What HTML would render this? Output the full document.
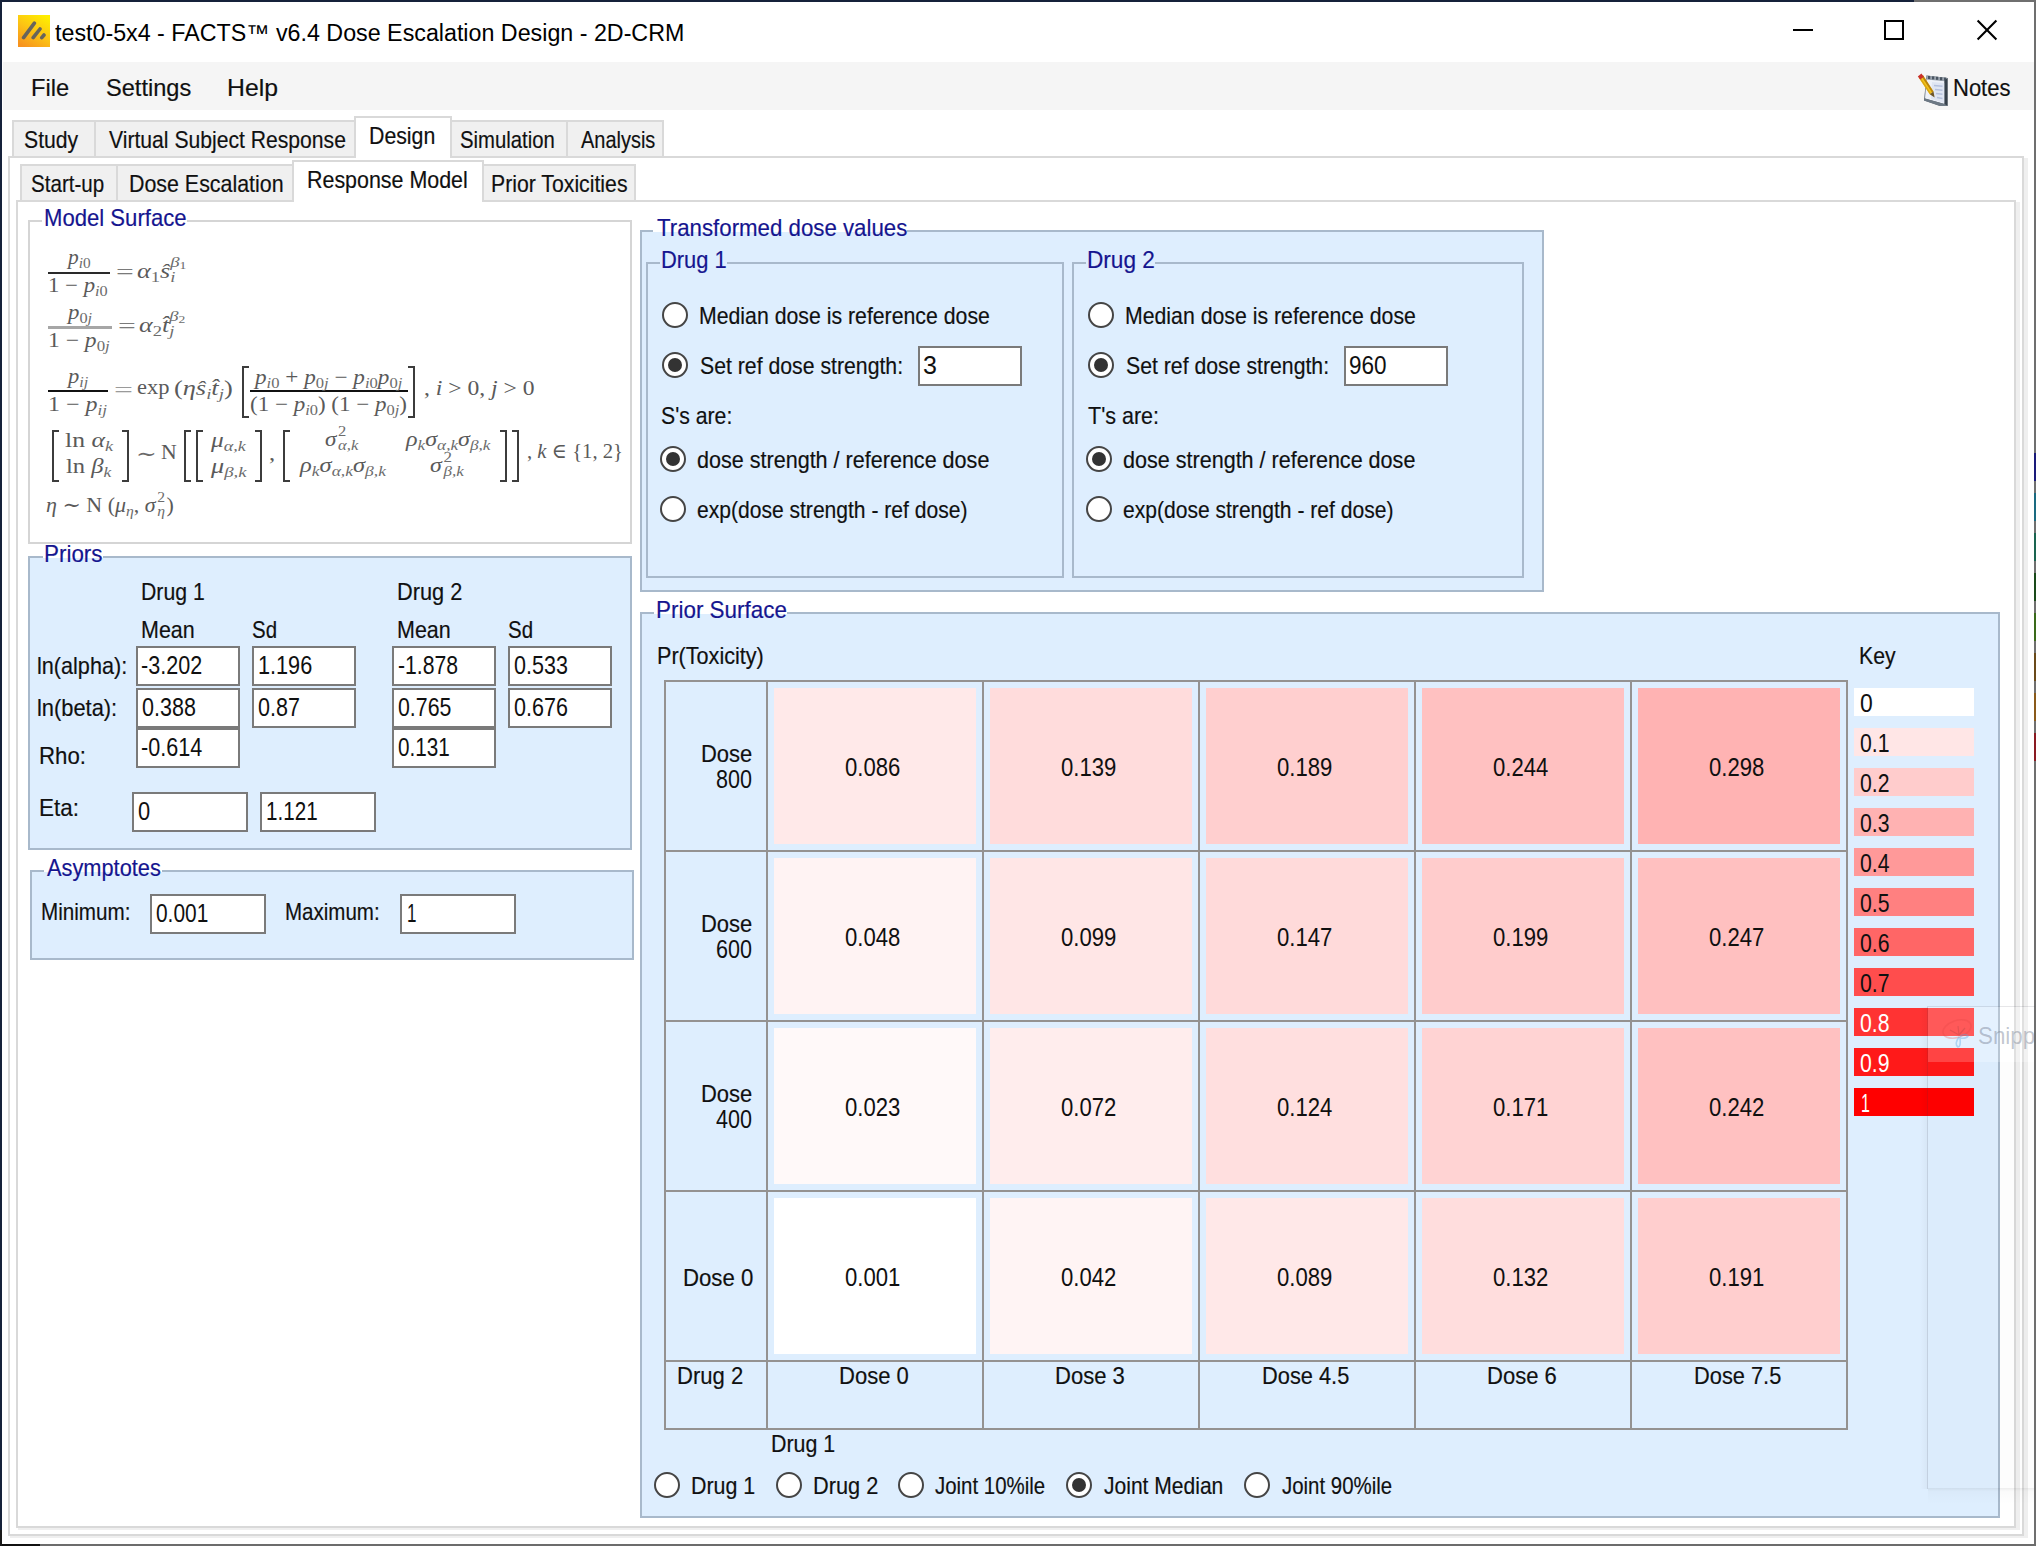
<!DOCTYPE html>
<html lang="en"><head><meta charset="utf-8"><title>test0-5x4 - FACTS v6.4 Dose Escalation Design - 2D-CRM</title>
<style>
html,body{margin:0;padding:0}
body{width:2036px;height:1546px;position:relative;overflow:hidden;background:#fff;font-family:'Liberation Sans', Arial, sans-serif;color:#101010}
body>div,body>svg,body>span{position:absolute;box-sizing:content-box}
.t{white-space:pre;font-size:24px;line-height:24px;transform-origin:0 0;display:block;-webkit-text-stroke:0.18px currentColor}

.sb{font-size:15px;position:relative;top:4px;color:#6c6c6c}
.sp{font-size:15px;position:relative;top:-9px}
.k{display:inline-block;position:relative;height:0;vertical-align:baseline}
.k>span{position:absolute;left:0;font-size:15px;line-height:15px;color:#6c6c6c}
.k>.u{bottom:7px}
.k>.d{top:-8px}
.f i{font-style:italic}
i{font-style:italic}

.f{position:absolute;white-space:pre;font-family:'Liberation Serif', 'DejaVu Serif', serif;color:#4b4b4b;line-height:1}
.f i{font-style:italic}
</style></head>
<body>
<div style="left:0px;top:0px;width:2036px;height:2px;background:#15213a;"></div>
<div style="left:1914px;top:0px;width:122px;height:2px;background:#6f6f6f;"></div>
<div style="left:0px;top:0px;width:2px;height:1546px;background:#15213a;"></div>
<div style="left:2034px;top:0px;width:2px;height:1546px;background:#6f6f6f;"></div>
<div style="left:0px;top:1544px;width:2036px;height:2px;background:#6c6c6c;"></div>
<div style="left:0px;top:1544px;width:40px;height:2px;background:#111111;"></div>
<div style="left:0px;top:1530px;width:2px;height:16px;background:#1a1a1a;"></div>
<div style="left:2034px;top:453px;width:2px;height:28px;background:#1a1a7a;"></div>
<div style="left:2034px;top:493px;width:2px;height:28px;background:#1a6a80;"></div>
<div style="left:2034px;top:533px;width:2px;height:28px;background:#1a6450;"></div>
<div style="left:2034px;top:573px;width:2px;height:28px;background:#1a4a1a;"></div>
<div style="left:2034px;top:613px;width:2px;height:28px;background:#3a6a1a;"></div>
<div style="left:2034px;top:653px;width:2px;height:28px;background:#6a4a1a;"></div>
<div style="left:2034px;top:693px;width:2px;height:28px;background:#8a5a1a;"></div>
<div style="left:2034px;top:733px;width:2px;height:28px;background:#8a1a22;"></div>
<div style="left:3px;top:62px;width:2031px;height:48px;background:#f5f5f5;"></div>
<svg style="left:18px;top:15px" width="32" height="32" viewBox="0 0 32 32">
<defs><linearGradient id="ig" x1="0.8" y1="0" x2="0.2" y2="1"><stop offset="0" stop-color="#ffee00"/><stop offset="0.5" stop-color="#fcc414"/><stop offset="1" stop-color="#f7931e"/></linearGradient></defs>
<rect width="32" height="32" fill="url(#ig)"/>
<g stroke="#606060" stroke-width="3.6" stroke-linecap="round" opacity="0.95">
<line x1="5.6" y1="22.6" x2="16.4" y2="8.2"/><line x1="15.2" y1="22.6" x2="22" y2="14"/><line x1="23.8" y1="22.6" x2="26" y2="20"/></g></svg>
<div style="left:1793px;top:29px;width:20px;height:2px;background:#000;"></div>
<div style="left:1884px;top:20px;width:16px;height:16px;border:2px solid #000;background:transparent;"></div>
<svg style="left:1975px;top:18px" width="24" height="24" viewBox="0 0 24 24"><path d="M2.6 2.6 L21.4 21.4 M21.4 2.6 L2.6 21.4" stroke="#000" stroke-width="2.1" fill="none"/></svg>
<svg style="left:1917px;top:73px" width="34" height="34" viewBox="0 0 34 34">
<path d="M9.5 2.5 L30.5 5 L30.5 33 L23 33 L7 27.5 Z" fill="#59636f"/>
<path d="M9.5 6 L27.5 7.5 L27.5 31 L8 25.5 Z" fill="#eef1f8"/>
<path d="M15 9 L27.5 10 L27.5 30 L14 26 Z" fill="#dfe5f2"/>
<path d="M9.5 2.5 L30.5 5 L30.5 8.5 L9.5 6.5 Z" fill="#9aa3ae"/>
<g fill="#4a5561"><rect x="11" y="3" width="2.2" height="3"/><rect x="15" y="3.4" width="2.2" height="3"/><rect x="19" y="3.8" width="2.2" height="3"/><rect x="23" y="4.2" width="2.2" height="3"/><rect x="27" y="4.6" width="2.2" height="3"/></g>
<path d="M27.5 7.5 L30.5 5 L30.5 33 L27.5 31Z" fill="#36414b"/>
<path d="M8 25.5 L27.5 31 L30.5 33 L23 33 L7 27.5Z" fill="#6c7884"/>
<g stroke="#b4c0dc" stroke-width="1.5"><line x1="17" y1="12.5" x2="25.5" y2="13.3"/><line x1="18" y1="16.5" x2="25.5" y2="17.3"/><line x1="19" y1="20.5" x2="25.5" y2="21.3"/><line x1="20" y1="24.5" x2="25.5" y2="25.5"/></g>
<path d="M2.2 5.2 L6 2.2 L16.5 18.5 L12.8 21.3 Z" fill="#f4c61c"/>
<path d="M4.6 3.4 L6 2.2 L16.5 18.5 L15 19.6 Z" fill="#b9820f"/>
<path d="M2.2 5.2 L3.4 4.3 L14 20.4 L12.8 21.3 Z" fill="#d9a514"/>
<path d="M0.8 3.4 L4.4 0.6 L6.8 3.8 L3.2 6.6 Z" fill="#c9302a"/>
<path d="M12.8 21.3 L16.5 18.5 L17.6 24.6 Z" fill="#6e5628"/>
</svg>
<div style="left:8px;top:156px;width:2012px;height:1376px;border:2px solid #d9d9d9;background:#fff;"></div>
<div style="left:2024px;top:158px;width:4px;height:1380px;background:#efefef;"></div>
<div style="left:10px;top:1536px;width:2018px;height:2px;background:#efefef;"></div>
<div style="left:12px;top:120px;width:80px;height:34px;border:2px solid #d9d9d9;background:#f0f0f0;"></div>
<div style="left:94px;top:120px;width:258px;height:34px;border:2px solid #d9d9d9;background:#f0f0f0;"></div>
<div style="left:450px;top:120px;width:114px;height:34px;border:2px solid #d9d9d9;background:#f0f0f0;"></div>
<div style="left:566px;top:120px;width:94px;height:34px;border:2px solid #d9d9d9;background:#f0f0f0;"></div>
<div style="left:354px;top:116px;width:94px;height:38px;border:2px solid #d9d9d9;background:#ffffff;border-bottom:none;height:40px;"></div>
<div style="left:16px;top:200px;width:1996px;height:1324px;border:2px solid #d9d9d9;background:#fff;"></div>
<div style="left:2016px;top:202px;width:4px;height:1328px;background:#efefef;"></div>
<div style="left:18px;top:1528px;width:2002px;height:2px;background:#efefef;"></div>
<div style="left:20px;top:164px;width:94px;height:34px;border:2px solid #d9d9d9;background:#f0f0f0;"></div>
<div style="left:116px;top:164px;width:174px;height:34px;border:2px solid #d9d9d9;background:#f0f0f0;"></div>
<div style="left:482px;top:164px;width:150px;height:34px;border:2px solid #d9d9d9;background:#f0f0f0;"></div>
<div style="left:292px;top:160px;width:188px;height:38px;border:2px solid #d9d9d9;background:#ffffff;border-bottom:none;height:40px;"></div>
<div style="left:28px;top:220px;width:600px;height:320px;border:2px solid #d5d5d5;background:#fff;"></div>
<div style="left:42.0px;top:220px;width:144.5px;height:2px;background:#fff;"></div>
<div style="left:28px;top:556px;width:600px;height:290px;border:2px solid #a8b9cb;background:#deeefe;"></div>
<div style="left:42.5px;top:556px;width:60.5px;height:2px;background:#fff;"></div>
<div style="left:30px;top:870px;width:600px;height:86px;border:2px solid #a8b9cb;background:#deeefe;"></div>
<div style="left:43.5px;top:870px;width:118.0px;height:2px;background:#fff;"></div>
<div style="left:640px;top:230px;width:900px;height:358px;border:2px solid #a8b9cb;background:#deeefe;"></div>
<div style="left:653.0px;top:230px;width:254.0px;height:2px;background:#fff;"></div>
<div style="left:646px;top:262px;width:414px;height:312px;border:2px solid #a8b9cb;background:#deeefe;"></div>
<div style="left:659.5px;top:262px;width:67.5px;height:2px;background:#deeefe;"></div>
<div style="left:1072px;top:262px;width:448px;height:312px;border:2px solid #a8b9cb;background:#deeefe;"></div>
<div style="left:1085.5px;top:262px;width:69.5px;height:2px;background:#deeefe;"></div>
<div style="left:640px;top:612px;width:1356px;height:902px;border:2px solid #a8b9cb;background:#deeefe;"></div>
<div style="left:654.0px;top:612px;width:132.5px;height:2px;background:#fff;"></div>
<div style="left:136px;top:646px;width:100px;height:36px;border:2px solid #7a7a7a;background:#fff;"></div>
<div style="left:252px;top:646px;width:100px;height:36px;border:2px solid #7a7a7a;background:#fff;"></div>
<div style="left:392px;top:646px;width:100px;height:36px;border:2px solid #7a7a7a;background:#fff;"></div>
<div style="left:508px;top:646px;width:100px;height:36px;border:2px solid #7a7a7a;background:#fff;"></div>
<div style="left:136px;top:688px;width:100px;height:36px;border:2px solid #7a7a7a;background:#fff;"></div>
<div style="left:252px;top:688px;width:100px;height:36px;border:2px solid #7a7a7a;background:#fff;"></div>
<div style="left:392px;top:688px;width:100px;height:36px;border:2px solid #7a7a7a;background:#fff;"></div>
<div style="left:508px;top:688px;width:100px;height:36px;border:2px solid #7a7a7a;background:#fff;"></div>
<div style="left:136px;top:728px;width:100px;height:36px;border:2px solid #7a7a7a;background:#fff;"></div>
<div style="left:392px;top:728px;width:100px;height:36px;border:2px solid #7a7a7a;background:#fff;"></div>
<div style="left:132px;top:792px;width:112px;height:36px;border:2px solid #7a7a7a;background:#fff;"></div>
<div style="left:260px;top:792px;width:112px;height:36px;border:2px solid #7a7a7a;background:#fff;"></div>
<div style="left:150px;top:894px;width:112px;height:36px;border:2px solid #7a7a7a;background:#fff;"></div>
<div style="left:400px;top:894px;width:112px;height:36px;border:2px solid #7a7a7a;background:#fff;"></div>
<div style="left:662px;top:302px;width:22px;height:22px;border:2px solid #454545;border-radius:50%;background:#fff"></div>
<div style="left:662px;top:352px;width:22px;height:22px;border:2px solid #454545;border-radius:50%;background:#fff"></div>
<div style="left:668px;top:358px;width:14px;height:14px;border-radius:50%;background:#333"></div>
<div style="left:918px;top:346px;width:100px;height:36px;border:2px solid #7a7a7a;background:#fff;"></div>
<div style="left:660px;top:446px;width:22px;height:22px;border:2px solid #454545;border-radius:50%;background:#fff"></div>
<div style="left:666px;top:452px;width:14px;height:14px;border-radius:50%;background:#333"></div>
<div style="left:660px;top:496px;width:22px;height:22px;border:2px solid #454545;border-radius:50%;background:#fff"></div>
<div style="left:1088px;top:302px;width:22px;height:22px;border:2px solid #454545;border-radius:50%;background:#fff"></div>
<div style="left:1088px;top:352px;width:22px;height:22px;border:2px solid #454545;border-radius:50%;background:#fff"></div>
<div style="left:1094px;top:358px;width:14px;height:14px;border-radius:50%;background:#333"></div>
<div style="left:1344px;top:346px;width:100px;height:36px;border:2px solid #7a7a7a;background:#fff;"></div>
<div style="left:1086px;top:446px;width:22px;height:22px;border:2px solid #454545;border-radius:50%;background:#fff"></div>
<div style="left:1092px;top:452px;width:14px;height:14px;border-radius:50%;background:#333"></div>
<div style="left:1086px;top:496px;width:22px;height:22px;border:2px solid #454545;border-radius:50%;background:#fff"></div>
<div style="left:664px;top:680px;width:2px;height:750px;background:#949291;"></div>
<div style="left:766px;top:680px;width:2px;height:750px;background:#949291;"></div>
<div style="left:982px;top:680px;width:2px;height:750px;background:#949291;"></div>
<div style="left:1198px;top:680px;width:2px;height:750px;background:#949291;"></div>
<div style="left:1414px;top:680px;width:2px;height:750px;background:#949291;"></div>
<div style="left:1630px;top:680px;width:2px;height:750px;background:#949291;"></div>
<div style="left:1846px;top:680px;width:2px;height:750px;background:#949291;"></div>
<div style="left:664px;top:680px;width:1184px;height:2px;background:#949291;"></div>
<div style="left:664px;top:850px;width:1184px;height:2px;background:#949291;"></div>
<div style="left:664px;top:1020px;width:1184px;height:2px;background:#949291;"></div>
<div style="left:664px;top:1190px;width:1184px;height:2px;background:#949291;"></div>
<div style="left:664px;top:1360px;width:1184px;height:2px;background:#949291;"></div>
<div style="left:664px;top:1428px;width:1184px;height:2px;background:#949291;"></div>
<div style="left:774px;top:688px;width:202px;height:156px;background:#ffe9e9;"></div>
<div style="left:990px;top:688px;width:202px;height:156px;background:#ffdcdc;"></div>
<div style="left:1206px;top:688px;width:202px;height:156px;background:#ffcfcf;"></div>
<div style="left:1422px;top:688px;width:202px;height:156px;background:#ffc1c1;"></div>
<div style="left:1638px;top:688px;width:202px;height:156px;background:#ffb3b3;"></div>
<div style="left:774px;top:858px;width:202px;height:156px;background:#fff3f3;"></div>
<div style="left:990px;top:858px;width:202px;height:156px;background:#ffe6e6;"></div>
<div style="left:1206px;top:858px;width:202px;height:156px;background:#ffdada;"></div>
<div style="left:1422px;top:858px;width:202px;height:156px;background:#ffcccc;"></div>
<div style="left:1638px;top:858px;width:202px;height:156px;background:#ffc0c0;"></div>
<div style="left:774px;top:1028px;width:202px;height:156px;background:#fff9f9;"></div>
<div style="left:990px;top:1028px;width:202px;height:156px;background:#ffeded;"></div>
<div style="left:1206px;top:1028px;width:202px;height:156px;background:#ffdfdf;"></div>
<div style="left:1422px;top:1028px;width:202px;height:156px;background:#ffd3d3;"></div>
<div style="left:1638px;top:1028px;width:202px;height:156px;background:#ffc1c1;"></div>
<div style="left:774px;top:1198px;width:202px;height:156px;background:#ffffff;"></div>
<div style="left:990px;top:1198px;width:202px;height:156px;background:#fff4f4;"></div>
<div style="left:1206px;top:1198px;width:202px;height:156px;background:#ffe8e8;"></div>
<div style="left:1422px;top:1198px;width:202px;height:156px;background:#ffdddd;"></div>
<div style="left:1638px;top:1198px;width:202px;height:156px;background:#ffcece;"></div>
<div style="left:1854px;top:688px;width:120px;height:28px;background:#ffffff;"></div>
<div style="left:1854px;top:728px;width:120px;height:28px;background:#ffe6e6;"></div>
<div style="left:1854px;top:768px;width:120px;height:28px;background:#ffcccc;"></div>
<div style="left:1854px;top:808px;width:120px;height:28px;background:#ffb2b2;"></div>
<div style="left:1854px;top:848px;width:120px;height:28px;background:#ff9999;"></div>
<div style="left:1854px;top:888px;width:120px;height:28px;background:#ff8080;"></div>
<div style="left:1854px;top:928px;width:120px;height:28px;background:#ff6666;"></div>
<div style="left:1854px;top:968px;width:120px;height:28px;background:#ff4d4d;"></div>
<div style="left:1854px;top:1008px;width:120px;height:28px;background:#ff3333;"></div>
<div style="left:1854px;top:1048px;width:120px;height:28px;background:#ff1919;"></div>
<div style="left:1854px;top:1088px;width:120px;height:28px;background:#ff0000;"></div>
<div style="left:654px;top:1472px;width:22px;height:22px;border:2px solid #454545;border-radius:50%;background:#fff"></div>
<div style="left:776px;top:1472px;width:22px;height:22px;border:2px solid #454545;border-radius:50%;background:#fff"></div>
<div style="left:898px;top:1472px;width:22px;height:22px;border:2px solid #454545;border-radius:50%;background:#fff"></div>
<div style="left:1066px;top:1472px;width:22px;height:22px;border:2px solid #454545;border-radius:50%;background:#fff"></div>
<div style="left:1072px;top:1478px;width:14px;height:14px;border-radius:50%;background:#333"></div>
<div style="left:1244px;top:1472px;width:22px;height:22px;border:2px solid #454545;border-radius:50%;background:#fff"></div>
<div style="left:48px;top:272px;width:62px;height:2px;background:#2a2a2a;"></div>
<div style="left:48px;top:326px;width:64px;height:3px;background:#a6a6a6;"></div>
<div style="left:48px;top:390px;width:60px;height:2px;background:#111;"></div>
<div style="left:242px;top:366px;width:5px;height:48px;border:2px solid #3c3c3c;border-right:none"></div>
<div style="left:250px;top:390px;width:158px;height:2px;background:#111;"></div>
<div style="left:408px;top:366px;width:5px;height:48px;border:2px solid #3c3c3c;border-left:none"></div>
<div style="left:52px;top:430px;width:5px;height:48px;border:2px solid #3c3c3c;border-right:none"></div>
<div style="left:122px;top:430px;width:5px;height:48px;border:2px solid #3c3c3c;border-left:none"></div>
<div style="left:184px;top:430px;width:5px;height:48px;border:2px solid #3c3c3c;border-right:none"></div>
<div style="left:196px;top:430px;width:5px;height:48px;border:2px solid #3c3c3c;border-right:none"></div>
<div style="left:255px;top:430px;width:5px;height:48px;border:2px solid #3c3c3c;border-left:none"></div>
<div style="left:283px;top:430px;width:5px;height:48px;border:2px solid #3c3c3c;border-right:none"></div>
<div style="left:500px;top:430px;width:5px;height:48px;border:2px solid #3c3c3c;border-left:none"></div>
<div style="left:512px;top:430px;width:5px;height:48px;border:2px solid #3c3c3c;border-left:none"></div>
<div style="left:1920px;top:1007px;width:8px;height:482px;background:linear-gradient(90deg,rgba(0,0,0,0),rgba(0,0,0,0.035))"></div>
<div style="left:1927px;top:1006px;width:107px;height:482px;border-left:1px solid rgba(60,60,80,0.13);border-top:1px solid rgba(60,60,80,0.13)"></div>
<div style="left:1928px;top:1007px;width:106px;height:55px;background:rgba(255,255,255,0.19)"></div>
<div style="left:1928px;top:1062px;width:106px;height:426px;background:rgba(0,0,0,0.008)"></div>
<div style="left:1928px;top:1488px;width:106px;height:16px;background:linear-gradient(180deg,rgba(0,0,0,0.07),rgba(0,0,0,0.02) 20%,rgba(0,0,0,0))"></div>
<svg style="left:1938px;top:1014px" width="40" height="40" viewBox="0 0 40 40"><ellipse cx="19" cy="15" rx="14.5" ry="8.5" transform="rotate(-18 19 15)" fill="none" stroke="rgba(225,70,70,0.28)" stroke-width="1.6"/><path d="M12 16 L21 21 L20 12 M21 21 L27 14" stroke="rgba(150,60,60,0.25)" stroke-width="1.2" fill="none"/><path d="M21 23 q-5 7 -1 10 q3 0 2 -9 q6 1 8 -2 q-2 -3 -8 0" stroke="rgba(90,170,230,0.40)" stroke-width="1.6" fill="none"/></svg>
<span class="t" style="left:55.20px;top:21.83px;font-size:23px;line-height:23px;color:#000;-webkit-text-stroke:0;transform:scaleX(1.0110)">test0-5x4 - FACTS™ v6.4 Dose Escalation Design - 2D-CRM</span>
<span class="t" style="left:30.53px;top:76.00px;transform:scaleX(0.9861)">File</span>
<span class="t" style="left:105.52px;top:76.00px;transform:scaleX(0.9824)">Settings</span>
<span class="t" style="left:226.94px;top:76.00px;transform:scaleX(1.0319)">Help</span>
<span class="t" style="left:1952.67px;top:76.00px;transform:scaleX(0.9167)">Notes</span>
<span class="t" style="left:23.62px;top:128.00px;transform:scaleX(0.8833)">Study</span>
<span class="t" style="left:108.50px;top:128.00px;transform:scaleX(0.8806)">Virtual Subject Response</span>
<span class="t" style="left:369.23px;top:124.00px;transform:scaleX(0.8873)">Design</span>
<span class="t" style="left:460.15px;top:128.00px;transform:scaleX(0.8455)">Simulation</span>
<span class="t" style="left:580.50px;top:128.00px;transform:scaleX(0.8315)">Analysis</span>
<span class="t" style="left:31.14px;top:172.00px;transform:scaleX(0.8571)">Start-up</span>
<span class="t" style="left:129.22px;top:172.00px;transform:scaleX(0.8912)">Dose Escalation</span>
<span class="t" style="left:306.71px;top:168.00px;transform:scaleX(0.8927)">Response Model</span>
<span class="t" style="left:490.73px;top:172.00px;transform:scaleX(0.8849)">Prior Toxicities</span>
<span class="t" style="left:43.66px;top:206.00px;color:#15158f;transform:scaleX(0.9211)">Model Surface</span>
<span class="t" style="left:44.13px;top:542.00px;color:#15158f;transform:scaleX(0.9333)">Priors</span>
<span class="t" style="left:47.00px;top:856.00px;color:#15158f;transform:scaleX(0.9080)">Asymptotes</span>
<span class="t" style="left:656.50px;top:216.00px;color:#15158f;transform:scaleX(0.9275)">Transformed dose values</span>
<span class="t" style="left:661.17px;top:248.00px;color:#15158f;transform:scaleX(0.9130)">Drug 1</span>
<span class="t" style="left:1087.12px;top:248.00px;color:#15158f;transform:scaleX(0.9420)">Drug 2</span>
<span class="t" style="left:655.63px;top:598.00px;color:#15158f;transform:scaleX(0.9343)">Prior Surface</span>
<span class="t" style="left:141.23px;top:580.00px;transform:scaleX(0.8841)">Drug 1</span>
<span class="t" style="left:397.19px;top:580.00px;transform:scaleX(0.9058)">Drug 2</span>
<span class="t" style="left:141.21px;top:618.00px;transform:scaleX(0.8947)">Mean</span>
<span class="t" style="left:252.15px;top:618.00px;transform:scaleX(0.8519)">Sd</span>
<span class="t" style="left:397.21px;top:618.00px;transform:scaleX(0.8947)">Mean</span>
<span class="t" style="left:508.15px;top:618.00px;transform:scaleX(0.8519)">Sd</span>
<span class="t" style="left:36.70px;top:654.00px;transform:scaleX(0.9010)">ln(alpha):</span>
<span class="t" style="left:36.68px;top:696.00px;transform:scaleX(0.9107)">ln(beta):</span>
<span class="t" style="left:39.15px;top:744.00px;transform:scaleX(0.9255)">Rho:</span>
<span class="t" style="left:39.13px;top:796.00px;transform:scaleX(0.9359)">Eta:</span>
<span class="t" style="left:141.14px;top:653.17px;font-size:25px;line-height:25px;-webkit-text-stroke:0;transform:scaleX(0.8623)">-3.202</span>
<span class="t" style="left:258.27px;top:653.17px;font-size:25px;line-height:25px;-webkit-text-stroke:0;transform:scaleX(0.8667)">1.196</span>
<span class="t" style="left:397.65px;top:653.17px;font-size:25px;line-height:25px;-webkit-text-stroke:0;transform:scaleX(0.8478)">-1.878</span>
<span class="t" style="left:513.64px;top:653.17px;font-size:25px;line-height:25px;-webkit-text-stroke:0;transform:scaleX(0.8607)">0.533</span>
<span class="t" style="left:141.64px;top:695.17px;font-size:25px;line-height:25px;-webkit-text-stroke:0;transform:scaleX(0.8607)">0.388</span>
<span class="t" style="left:257.64px;top:695.17px;font-size:25px;line-height:25px;-webkit-text-stroke:0;transform:scaleX(0.8617)">0.87</span>
<span class="t" style="left:397.65px;top:695.17px;font-size:25px;line-height:25px;-webkit-text-stroke:0;transform:scaleX(0.8525)">0.765</span>
<span class="t" style="left:513.64px;top:695.17px;font-size:25px;line-height:25px;-webkit-text-stroke:0;transform:scaleX(0.8607)">0.676</span>
<span class="t" style="left:141.14px;top:735.17px;font-size:25px;line-height:25px;-webkit-text-stroke:0;transform:scaleX(0.8623)">-0.614</span>
<span class="t" style="left:397.67px;top:735.17px;font-size:25px;line-height:25px;-webkit-text-stroke:0;transform:scaleX(0.8279)">0.131</span>
<span class="t" style="left:137.62px;top:799.17px;font-size:25px;line-height:25px;-webkit-text-stroke:0;transform:scaleX(0.8750)">0</span>
<span class="t" style="left:265.85px;top:799.17px;font-size:25px;line-height:25px;-webkit-text-stroke:0;transform:scaleX(0.8250)">1.121</span>
<span class="t" style="left:40.78px;top:900.00px;transform:scaleX(0.8600)">Minimum:</span>
<span class="t" style="left:285.29px;top:900.00px;transform:scaleX(0.8551)">Maximum:</span>
<span class="t" style="left:155.66px;top:901.17px;font-size:25px;line-height:25px;-webkit-text-stroke:0;transform:scaleX(0.8361)">0.001</span>
<span class="t" style="left:406.64px;top:901.17px;font-size:25px;line-height:25px;-webkit-text-stroke:0;transform:scaleX(0.6818)">1</span>
<span class="t" style="left:698.73px;top:304.00px;transform:scaleX(0.8862)">Median dose is reference dose</span>
<span class="t" style="left:699.62px;top:354.00px;transform:scaleX(0.8850)">Set ref dose strength:</span>
<span class="t" style="left:923.00px;top:353.17px;font-size:25px;line-height:25px;-webkit-text-stroke:0;transform:scaleX(1.0000)">3</span>
<span class="t" style="left:661.12px;top:404.00px;transform:scaleX(0.8846)">S&#x27;s are:</span>
<span class="t" style="left:696.60px;top:448.00px;transform:scaleX(0.8981)">dose strength / reference dose</span>
<span class="t" style="left:696.62px;top:498.00px;transform:scaleX(0.8775)">exp(dose strength - ref dose)</span>
<span class="t" style="left:1124.73px;top:304.00px;transform:scaleX(0.8862)">Median dose is reference dose</span>
<span class="t" style="left:1125.62px;top:354.00px;transform:scaleX(0.8850)">Set ref dose strength:</span>
<span class="t" style="left:1349.10px;top:353.17px;font-size:25px;line-height:25px;-webkit-text-stroke:0;transform:scaleX(0.9000)">960</span>
<span class="t" style="left:1088.00px;top:404.00px;transform:scaleX(0.8961)">T&#x27;s are:</span>
<span class="t" style="left:1122.60px;top:448.00px;transform:scaleX(0.8981)">dose strength / reference dose</span>
<span class="t" style="left:1122.62px;top:498.00px;transform:scaleX(0.8775)">exp(dose strength - ref dose)</span>
<span class="t" style="left:656.70px;top:644.00px;transform:scaleX(0.9000)">Pr(Toxicity)</span>
<span class="t" style="left:1858.73px;top:644.00px;transform:scaleX(0.8846)">Key</span>
<span class="t" style="left:845.11px;top:755.17px;font-size:25px;line-height:25px;-webkit-text-stroke:0;transform:scaleX(0.8852)">0.086</span>
<span class="t" style="left:1061.11px;top:755.17px;font-size:25px;line-height:25px;-webkit-text-stroke:0;transform:scaleX(0.8852)">0.139</span>
<span class="t" style="left:1277.11px;top:755.17px;font-size:25px;line-height:25px;-webkit-text-stroke:0;transform:scaleX(0.8852)">0.189</span>
<span class="t" style="left:1493.11px;top:755.17px;font-size:25px;line-height:25px;-webkit-text-stroke:0;transform:scaleX(0.8852)">0.244</span>
<span class="t" style="left:1709.11px;top:755.17px;font-size:25px;line-height:25px;-webkit-text-stroke:0;transform:scaleX(0.8852)">0.298</span>
<span class="t" style="left:845.11px;top:925.17px;font-size:25px;line-height:25px;-webkit-text-stroke:0;transform:scaleX(0.8852)">0.048</span>
<span class="t" style="left:1061.11px;top:925.17px;font-size:25px;line-height:25px;-webkit-text-stroke:0;transform:scaleX(0.8852)">0.099</span>
<span class="t" style="left:1277.11px;top:925.17px;font-size:25px;line-height:25px;-webkit-text-stroke:0;transform:scaleX(0.8852)">0.147</span>
<span class="t" style="left:1493.11px;top:925.17px;font-size:25px;line-height:25px;-webkit-text-stroke:0;transform:scaleX(0.8852)">0.199</span>
<span class="t" style="left:1709.11px;top:925.17px;font-size:25px;line-height:25px;-webkit-text-stroke:0;transform:scaleX(0.8852)">0.247</span>
<span class="t" style="left:845.11px;top:1095.17px;font-size:25px;line-height:25px;-webkit-text-stroke:0;transform:scaleX(0.8852)">0.023</span>
<span class="t" style="left:1061.11px;top:1095.17px;font-size:25px;line-height:25px;-webkit-text-stroke:0;transform:scaleX(0.8852)">0.072</span>
<span class="t" style="left:1277.11px;top:1095.17px;font-size:25px;line-height:25px;-webkit-text-stroke:0;transform:scaleX(0.8852)">0.124</span>
<span class="t" style="left:1493.11px;top:1095.17px;font-size:25px;line-height:25px;-webkit-text-stroke:0;transform:scaleX(0.8852)">0.171</span>
<span class="t" style="left:1709.11px;top:1095.17px;font-size:25px;line-height:25px;-webkit-text-stroke:0;transform:scaleX(0.8852)">0.242</span>
<span class="t" style="left:845.11px;top:1265.17px;font-size:25px;line-height:25px;-webkit-text-stroke:0;transform:scaleX(0.8852)">0.001</span>
<span class="t" style="left:1061.11px;top:1265.17px;font-size:25px;line-height:25px;-webkit-text-stroke:0;transform:scaleX(0.8852)">0.042</span>
<span class="t" style="left:1277.11px;top:1265.17px;font-size:25px;line-height:25px;-webkit-text-stroke:0;transform:scaleX(0.8852)">0.089</span>
<span class="t" style="left:1493.11px;top:1265.17px;font-size:25px;line-height:25px;-webkit-text-stroke:0;transform:scaleX(0.8852)">0.132</span>
<span class="t" style="left:1709.11px;top:1265.17px;font-size:25px;line-height:25px;-webkit-text-stroke:0;transform:scaleX(0.8852)">0.191</span>
<span class="t" style="left:700.67px;top:742.00px;transform:scaleX(0.9151)">Dose</span>
<span class="t" style="left:715.64px;top:767.17px;font-size:25px;line-height:25px;-webkit-text-stroke:0;transform:scaleX(0.8625)">800</span>
<span class="t" style="left:700.67px;top:912.00px;transform:scaleX(0.9151)">Dose</span>
<span class="t" style="left:715.64px;top:937.17px;font-size:25px;line-height:25px;-webkit-text-stroke:0;transform:scaleX(0.8625)">600</span>
<span class="t" style="left:700.67px;top:1082.00px;transform:scaleX(0.9151)">Dose</span>
<span class="t" style="left:715.64px;top:1107.17px;font-size:25px;line-height:25px;-webkit-text-stroke:0;transform:scaleX(0.8625)">400</span>
<span class="t" style="left:682.65px;top:1266.00px;transform:scaleX(0.9247)">Dose 0</span>
<span class="t" style="left:676.66px;top:1364.00px;transform:scaleX(0.9203)">Drug 2</span>
<span class="t" style="left:839.16px;top:1364.00px;transform:scaleX(0.9178)">Dose 0</span>
<span class="t" style="left:1055.16px;top:1364.00px;transform:scaleX(0.9178)">Dose 3</span>
<span class="t" style="left:1262.43px;top:1364.00px;transform:scaleX(0.9086)">Dose 4.5</span>
<span class="t" style="left:1487.16px;top:1364.00px;transform:scaleX(0.9178)">Dose 6</span>
<span class="t" style="left:1694.43px;top:1364.00px;transform:scaleX(0.9086)">Dose 7.5</span>
<span class="t" style="left:771.22px;top:1432.00px;transform:scaleX(0.8913)">Drug 1</span>
<span class="t" style="left:1859.58px;top:691.17px;font-size:25px;line-height:25px;-webkit-text-stroke:0;transform:scaleX(0.9167)">0</span>
<span class="t" style="left:1859.65px;top:731.17px;font-size:25px;line-height:25px;-webkit-text-stroke:0;transform:scaleX(0.8485)">0.1</span>
<span class="t" style="left:1859.65px;top:771.17px;font-size:25px;line-height:25px;-webkit-text-stroke:0;transform:scaleX(0.8485)">0.2</span>
<span class="t" style="left:1859.65px;top:811.17px;font-size:25px;line-height:25px;-webkit-text-stroke:0;transform:scaleX(0.8485)">0.3</span>
<span class="t" style="left:1859.65px;top:851.17px;font-size:25px;line-height:25px;-webkit-text-stroke:0;transform:scaleX(0.8485)">0.4</span>
<span class="t" style="left:1859.65px;top:891.17px;font-size:25px;line-height:25px;-webkit-text-stroke:0;transform:scaleX(0.8485)">0.5</span>
<span class="t" style="left:1859.65px;top:931.17px;font-size:25px;line-height:25px;-webkit-text-stroke:0;transform:scaleX(0.8485)">0.6</span>
<span class="t" style="left:1859.65px;top:971.17px;font-size:25px;line-height:25px;-webkit-text-stroke:0;transform:scaleX(0.8485)">0.7</span>
<span class="t" style="left:1859.65px;top:1011.17px;font-size:25px;line-height:25px;color:#fff;-webkit-text-stroke:0;transform:scaleX(0.8485)">0.8</span>
<span class="t" style="left:1859.65px;top:1051.17px;font-size:25px;line-height:25px;color:#fff;-webkit-text-stroke:0;transform:scaleX(0.8485)">0.9</span>
<span class="t" style="left:1860.73px;top:1091.17px;font-size:25px;line-height:25px;color:#fff;-webkit-text-stroke:0;transform:scaleX(0.6364)">1</span>
<span class="t" style="left:690.72px;top:1474.00px;transform:scaleX(0.8913)">Drug 1</span>
<span class="t" style="left:813.19px;top:1474.00px;transform:scaleX(0.9058)">Drug 2</span>
<span class="t" style="left:935.15px;top:1474.00px;transform:scaleX(0.8504)">Joint 10%ile</span>
<span class="t" style="left:1103.62px;top:1474.00px;transform:scaleX(0.8769)">Joint Median</span>
<span class="t" style="left:1281.65px;top:1474.00px;transform:scaleX(0.8504)">Joint 90%ile</span>
<span class="t" style="left:68.02px;top:247.41px;font-size:21px;line-height:21px;font-family:'Liberation Serif', 'DejaVu Serif', serif;color:#5a5a5a;-webkit-text-stroke:0;transform:scaleX(1.0217)"><i>p</i><span class="sb"><i>i</i>0</span></span>
<span class="t" style="left:48.33px;top:275.41px;font-size:21px;line-height:21px;font-family:'Liberation Serif', 'DejaVu Serif', serif;color:#5a5a5a;-webkit-text-stroke:0;transform:scaleX(1.0849)">1 − <i>p</i><span class="sb"><i>i</i>0</span></span>
<span class="t" style="left:115.50px;top:262.41px;font-size:21px;line-height:21px;font-family:'Liberation Serif', 'DejaVu Serif', serif;color:#7a7a7a;-webkit-text-stroke:0;transform:scaleX(1.5000)">=</span>
<span class="t" style="left:137.26px;top:261.41px;font-size:21px;line-height:21px;font-family:'Liberation Serif', 'DejaVu Serif', serif;color:#5a5a5a;-webkit-text-stroke:0;transform:scaleX(1.2432)"><i>α</i><span class="sb">1</span><i>ŝ</i><span class="k" style="width:13px;margin-left:0px"><span class="u"><i>β</i><span style="font-size:11px;position:relative;top:2px">1</span></span><span class="d"><i>i</i></span></span></span>
<span class="t" style="left:68.09px;top:302.41px;font-size:21px;line-height:21px;font-family:'Liberation Serif', 'DejaVu Serif', serif;color:#5a5a5a;-webkit-text-stroke:0;transform:scaleX(1.0870)"><i>p</i><span class="sb">0<i>j</i></span></span>
<span class="t" style="left:48.25px;top:330.41px;font-size:21px;line-height:21px;font-family:'Liberation Serif', 'DejaVu Serif', serif;color:#5a5a5a;-webkit-text-stroke:0;transform:scaleX(1.1226)">1 − <i>p</i><span class="sb">0<i>j</i></span></span>
<span class="t" style="left:117.50px;top:316.41px;font-size:21px;line-height:21px;font-family:'Liberation Serif', 'DejaVu Serif', serif;color:#7a7a7a;-webkit-text-stroke:0;transform:scaleX(1.5000)">=</span>
<span class="t" style="left:138.76px;top:315.41px;font-size:21px;line-height:21px;font-family:'Liberation Serif', 'DejaVu Serif', serif;color:#5a5a5a;-webkit-text-stroke:0;transform:scaleX(1.2361)"><i>α</i><span class="sb">2</span><i>t̂</i><span class="k" style="width:13px;margin-left:0px"><span class="u"><i>β</i><span style="font-size:11px;position:relative;top:2px">2</span></span><span class="d"><i>j</i></span></span></span>
<span class="t" style="left:68.08px;top:365.91px;font-size:21px;line-height:21px;font-family:'Liberation Serif', 'DejaVu Serif', serif;color:#5a5a5a;-webkit-text-stroke:0;transform:scaleX(1.0750)"><i>p</i><span class="sb"><i>ij</i></span></span>
<span class="t" style="left:48.21px;top:394.41px;font-size:21px;line-height:21px;font-family:'Liberation Serif', 'DejaVu Serif', serif;color:#5a5a5a;-webkit-text-stroke:0;transform:scaleX(1.1429)">1 − <i>p</i><span class="sb"><i>ij</i></span></span>
<span class="t" style="left:114.40px;top:380.41px;font-size:21px;line-height:21px;font-family:'Liberation Serif', 'DejaVu Serif', serif;color:#9a9a9a;-webkit-text-stroke:0;transform:scaleX(1.6000)">=</span>
<span class="t" style="left:136.93px;top:377.41px;font-size:21px;line-height:21px;font-family:'Liberation Serif', 'DejaVu Serif', serif;color:#5a5a5a;-webkit-text-stroke:0;transform:scaleX(1.0690)">exp</span>
<span class="t" style="left:174.24px;top:378.41px;font-size:21px;line-height:21px;font-family:'Liberation Serif', 'DejaVu Serif', serif;color:#5a5a5a;-webkit-text-stroke:0;transform:scaleX(1.2556)">(<i>ηŝ</i><span class="sb"><i>i</i></span><i>t̂</i><span class="sb"><i>j</i></span>)</span>
<span class="t" style="left:255.10px;top:366.91px;font-size:21px;line-height:21px;font-family:'Liberation Serif', 'DejaVu Serif', serif;color:#5a5a5a;-webkit-text-stroke:0;transform:scaleX(1.1045)"><i>p</i><span class="sb"><i>i</i>0</span> + <i>p</i><span class="sb">0<i>j</i></span> − <i>p</i><span class="sb"><i>i</i>0</span><i>p</i><span class="sb">0<i>j</i></span></span>
<span class="t" style="left:249.90px;top:394.41px;font-size:21px;line-height:21px;font-family:'Liberation Serif', 'DejaVu Serif', serif;color:#5a5a5a;-webkit-text-stroke:0;transform:scaleX(1.0957)">(1 − <i>p</i><span class="sb"><i>i</i>0</span>) (1 − <i>p</i><span class="sb">0<i>j</i></span>)</span>
<span class="t" style="left:424.38px;top:377.91px;font-size:21px;line-height:21px;font-family:'Liberation Serif', 'DejaVu Serif', serif;color:#5a5a5a;-webkit-text-stroke:0;transform:scaleX(1.1237)">, <i>i</i> &gt; 0, <i>j</i> &gt; 0</span>
<span class="t" style="left:65.28px;top:429.91px;font-size:21px;line-height:21px;font-family:'Liberation Serif', 'DejaVu Serif', serif;color:#5a5a5a;-webkit-text-stroke:0;transform:scaleX(1.2237)">ln <i>α</i><span class="sb"><i>k</i></span></span>
<span class="t" style="left:66.33px;top:455.91px;font-size:21px;line-height:21px;font-family:'Liberation Serif', 'DejaVu Serif', serif;color:#5a5a5a;-webkit-text-stroke:0;transform:scaleX(1.1711)">ln <i>β</i><span class="sb"><i>k</i></span></span>
<span class="t" style="left:136.14px;top:444.41px;font-size:21px;line-height:21px;font-family:'Liberation Serif', 'DejaVu Serif', serif;color:#6a6a6a;-webkit-text-stroke:0;transform:scaleX(1.1786)">∼</span>
<span class="t" style="left:160.96px;top:442.41px;font-size:21px;line-height:21px;font-family:'Liberation Serif', 'DejaVu Serif', serif;color:#5a5a5a;-webkit-text-stroke:0;transform:scaleX(1.0385)">N</span>
<span class="t" style="left:211.00px;top:430.41px;font-size:21px;line-height:21px;font-family:'Liberation Serif', 'DejaVu Serif', serif;color:#5a5a5a;-webkit-text-stroke:0;transform:scaleX(1.2069)"><i>μ</i><span class="sb"><i>α,k</i></span></span>
<span class="t" style="left:211.00px;top:455.91px;font-size:21px;line-height:21px;font-family:'Liberation Serif', 'DejaVu Serif', serif;color:#5a5a5a;-webkit-text-stroke:0;transform:scaleX(1.2500)"><i>μ</i><span class="sb"><i>β,k</i></span></span>
<span class="t" style="left:269.33px;top:443.41px;font-size:21px;line-height:21px;font-family:'Liberation Serif', 'DejaVu Serif', serif;color:#5a5a5a;-webkit-text-stroke:0;transform:scaleX(1.1667)">,</span>
<span class="t" style="left:324.90px;top:429.41px;font-size:21px;line-height:21px;font-family:'Liberation Serif', 'DejaVu Serif', serif;color:#5a5a5a;-webkit-text-stroke:0;transform:scaleX(1.1034)"><i>σ</i><span class="k" style="width:20px;margin-left:1.5px"><span class="u">2</span><span class="d"><i>α,k</i></span></span></span>
<span class="t" style="left:405.65px;top:429.41px;font-size:21px;line-height:21px;font-family:'Liberation Serif', 'DejaVu Serif', serif;color:#5a5a5a;-webkit-text-stroke:0;transform:scaleX(1.1467)"><i>ρ</i><span class="sb"><i>k</i></span><i>σ</i><span class="sb"><i>α,k</i></span><i>σ</i><span class="sb"><i>β,k</i></span></span>
<span class="t" style="left:299.67px;top:455.41px;font-size:21px;line-height:21px;font-family:'Liberation Serif', 'DejaVu Serif', serif;color:#5a5a5a;-webkit-text-stroke:0;transform:scaleX(1.1667)"><i>ρ</i><span class="sb"><i>k</i></span><i>σ</i><span class="sb"><i>α,k</i></span><i>σ</i><span class="sb"><i>β,k</i></span></span>
<span class="t" style="left:429.86px;top:455.41px;font-size:21px;line-height:21px;font-family:'Liberation Serif', 'DejaVu Serif', serif;color:#5a5a5a;-webkit-text-stroke:0;transform:scaleX(1.1379)"><i>σ</i><span class="k" style="width:20px;margin-left:1.5px"><span class="u">2</span><span class="d"><i>β,k</i></span></span></span>
<span class="t" style="left:527.02px;top:441.41px;font-size:21px;line-height:21px;font-family:'Liberation Serif', 'DejaVu Serif', serif;color:#5a5a5a;-webkit-text-stroke:0;transform:scaleX(0.9842)">, <i>k</i> ∈ {1, 2}</span>
<span class="t" style="left:46.45px;top:494.91px;font-size:21px;line-height:21px;font-family:'Liberation Serif', 'DejaVu Serif', serif;color:#5a5a5a;-webkit-text-stroke:0;transform:scaleX(1.0458)"><i>η</i> ∼ N (<i>μ</i><span class="sb"><i>η</i></span>, <i>σ</i><span class="k" style="width:9px;margin-left:1.5px"><span class="u">2</span><span class="d"><i>η</i></span></span>)</span>
<span class="t" style="left:1977.57px;top:1023.50px;color:rgba(110,120,140,0.42);-webkit-text-stroke:0;transform:scaleX(0.9300)">Snipp</span>
</body></html>
